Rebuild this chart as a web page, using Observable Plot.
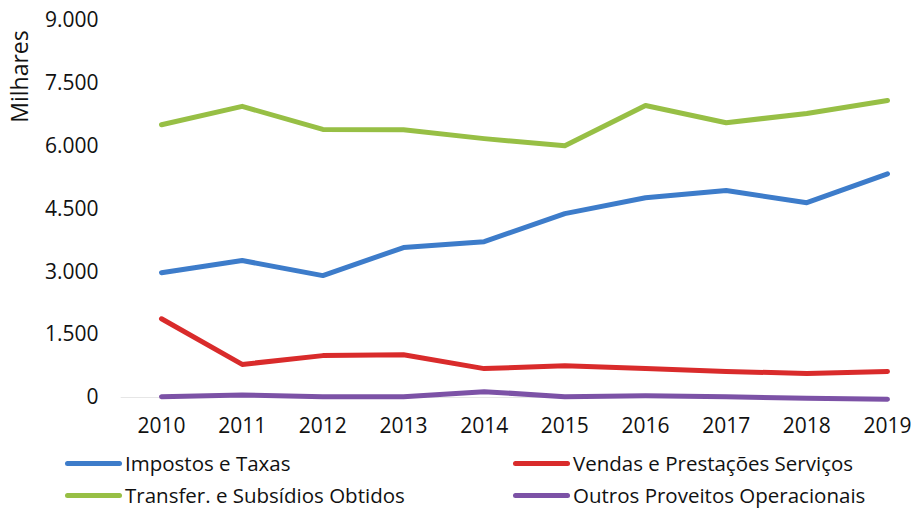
<!DOCTYPE html>
<html>
<head>
<meta charset="utf-8">
<script src="https://cdn.jsdelivr.net/npm/d3@7"></script>
<script src="https://cdn.jsdelivr.net/npm/@observablehq/plot@0.6"></script>
<style>
  body { margin: 0; background: #fff; font-family: "Open Sans", sans-serif; }
  #wrap { position: relative; width: 913px; height: 511px; }
  #chart { position: absolute; left: 0; top: 0; }
  #legend { position: absolute; left: 0; top: 0; width: 913px; height: 511px; font-family: "Open Sans", sans-serif; font-size: 20.5px; color: #111; pointer-events: none; }
  .item { position: absolute; display: flex; align-items: center; white-space: nowrap; height: 30px; }
  .sw { width: 57px; height: 5px; border-radius: 3px; margin-right: 3px; }
</style>
</head>
<body>
<div id="wrap"><div id="chart"></div><div id="legend"></div></div>
<script>
const years = [2010, 2011, 2012, 2013, 2014, 2015, 2016, 2017, 2018, 2019];
const seriesNames = ["Impostos e Taxas", "Vendas e Prestações Serviços", "Transfer. e Subsídios Obtidos", "Outros Proveitos Operacionais"];
const impostos = [2980, 3270, 2910, 3580, 3720, 4390, 4770, 4940, 4650, 5340];
const vendas = [1880, 790, 1000, 1020, 690, 760, 690, 620, 575, 620];
const transfer = [6510, 6950, 6400, 6390, 6180, 6010, 6970, 6560, 6780, 7090];
const outros = [20, 60, 20, 20, 140, 20, 40, 20, -20, -40];
const yTicks = [0, 1500, 3000, 4500, 6000, 7500, 9000];
const yLabel = "Milhares";
const colors = ["#3d7cca", "#d92b2b", "#97bf45", "#7c52a6"];

const valuesBySeries = [impostos, vendas, transfer, outros];
const data = [];
seriesNames.forEach((s, i) => years.forEach((y, j) => data.push({series: s, year: y, value: valuesBySeries[i][j]})));

const locale = d3.formatLocale({decimal: ",", thousands: ".", grouping: [3], currency: ["", "€"]});
const fmt = locale.format(",.0f");

const chart = Plot.plot({
  width: 913,
  height: 450,
  marginLeft: 161,
  marginRight: 26,
  marginTop: 20,
  marginBottom: 53,
  style: {fontFamily: "Open Sans, sans-serif", fontSize: "21px", color: "#111"},
  x: {domain: [2010, 2019], ticks: years, tickFormat: d => String(d), tickSize: 0, tickPadding: 21, label: null},
  y: {domain: [0, 9000], ticks: yTicks, tickFormat: fmt, tickSize: 0, tickPadding: 63, label: null},
  color: {domain: seriesNames, range: colors},
  marks: [
    Plot.ruleY([0], {x1: 2009.5, x2: 2019, stroke: "#e6e6e6", strokeWidth: 1}),
    Plot.line(data, {x: "year", y: "value", z: "series", stroke: "series", strokeWidth: 5, strokeLinecap: "round", strokeLinejoin: "round"}),
    Plot.text([yLabel], {frameAnchor: "top-left", dx: -150, dy: 56, rotate: -90, text: d => d, fontSize: 23, fill: "#111", textAnchor: "middle"})
  ]
});
document.getElementById("chart").appendChild(chart);

const legend = document.getElementById("legend");
const pos = [[65, 463], [513, 463], [65, 495], [513, 495]];
seriesNames.forEach((s, i) => {
  const it = document.createElement("div");
  it.className = "item";
  it.style.left = pos[i][0] + "px";
  it.style.top = (pos[i][1] - 15) + "px";
  it.innerHTML = `<span class="sw" style="background:${colors[i]}"></span><span>${s}</span>`;
  legend.appendChild(it);
});
</script>
</body>
</html>
